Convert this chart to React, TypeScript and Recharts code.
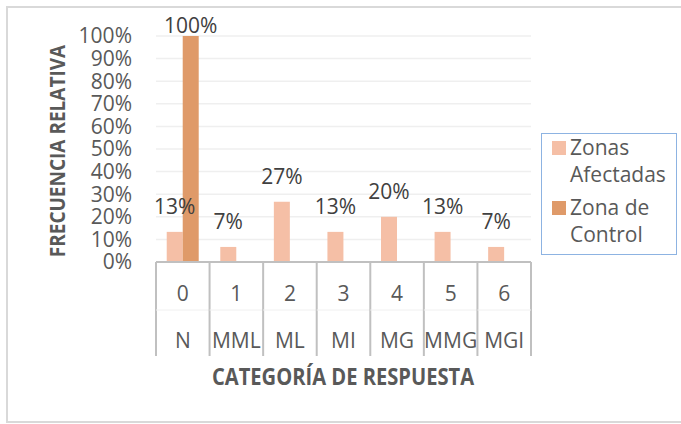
import React from 'react';
import { BarChart, Bar, XAxis, YAxis, CartesianGrid, LabelList } from 'recharts';

const codes = ['0', '1', '2', '3', '4', '5', '6'];
const categories = ['N', 'MML', 'ML', 'MI', 'MG', 'MMG', 'MGI'];
const zonasAfectadas = [0.1333, 0.0667, 0.2667, 0.1333, 0.2, 0.1333, 0.0667];
const zonaControl = [1, 0, 0, 0, 0, 0, 0];
const yTicks = [0, 0.1, 0.2, 0.3, 0.4, 0.5, 0.6, 0.7, 0.8, 0.9, 1];

const data = codes.map((c, i) => ({
  code: c,
  afectadas: zonasAfectadas[i],
  control: zonaControl[i],
}));

const FONT = '"Open Sans", sans-serif';
const PLOT_LEFT = 156;
const PLOT_RIGHT = 531;
const PLOT_BOTTOM = 262;
const BAND = (PLOT_RIGHT - PLOT_LEFT) / codes.length;

const CatTick = (props: any) => {
  const { x, payload, index } = props;
  const last = index === codes.length - 1;
  return (
    <g>
      <line x1={x - BAND / 2} x2={x - BAND / 2} y1={PLOT_BOTTOM} y2={356} stroke="#c0c0c0" strokeWidth={2} />
      {last && <line x1={x + BAND / 2} x2={x + BAND / 2} y1={PLOT_BOTTOM} y2={356} stroke="#c0c0c0" strokeWidth={2} />}
      <line x1={x - BAND / 2} x2={x + BAND / 2} y1={310} y2={310} stroke="#f0f0f0" strokeWidth={1} />
      <text x={x} y={301} textAnchor="middle" fill="#595959" fontSize={21} fontFamily={FONT}>
        {payload.value}
      </text>
      <text x={x} y={348} textAnchor="middle" fill="#595959" fontSize={21} fontFamily={FONT}>
        {categories[index]}
      </text>
    </g>
  );
};

const renderLabel = (props: any) => {
  const { x, y, width, value } = props;
  if (!value) return null;
  const ty = Math.max(y - 18, 33);
  return (
    <text x={x + width / 2} y={ty} textAnchor="middle" fill="#404040" fontSize={21} fontFamily={FONT}>
      {Math.round(value * 100)}%
    </text>
  );
};

const legendItems = [
  { lines: ['Zonas', 'Afectadas'], color: '#f5bfa6' },
  { lines: ['Zona de', 'Control'], color: '#df9a69' },
];

export default function App() {
  return (
    <div style={{ position: 'absolute', left: 0, top: 0, width: 681, height: 424, overflow: 'hidden', background: '#fff', fontFamily: FONT }}>
      <div style={{ position: 'absolute', left: 6, top: 6, width: 700, height: 417, boxSizing: 'border-box', border: '2px solid #d9d9d9' }} />
      <BarChart
        width={681}
        height={424}
        data={data}
        margin={{ top: 36, right: 681 - PLOT_RIGHT, left: PLOT_LEFT - 80, bottom: 62 }}
        barCategoryGap="20%"
        barGap={0}
      >
        <CartesianGrid vertical={false} stroke="#efefef" strokeWidth={1.5} />
        <XAxis
          dataKey="code"
          height={100}
          tickLine={false}
          axisLine={{ stroke: '#c0c0c0', strokeWidth: 2 }}
          tick={<CatTick />}
          interval={0}
        />
        <YAxis
          width={80}
          domain={[0, 1]}
          ticks={yTicks}
          tickFormatter={(v: number) => `${Math.round(v * 100)}%`}
          tickLine={false}
          axisLine={false}
          tickMargin={18}
          tick={{ fill: '#595959', fontSize: 21, fontFamily: FONT }}
          interval={0}
        />
        <Bar dataKey="afectadas" fill="#f5bfa6" isAnimationActive={false}>
          <LabelList dataKey="afectadas" content={renderLabel} />
        </Bar>
        <Bar dataKey="control" fill="#df9a69" isAnimationActive={false}>
          <LabelList dataKey="control" content={renderLabel} />
        </Bar>
      </BarChart>
      <div
        style={{
          position: 'absolute', left: 56, top: 151, transform: 'translate(-50%, -50%) rotate(-90deg) scaleX(0.864)',
          whiteSpace: 'nowrap', fontWeight: 700, fontSize: 22, color: '#595959', lineHeight: '24px',
        }}
      >
        FRECUENCIA RELATIVA
      </div>
      <div
        style={{
          position: 'absolute', left: 343, top: 376, transform: 'translate(-50%, -50%) scaleX(0.875)',
          whiteSpace: 'nowrap', fontWeight: 700, fontSize: 23, color: '#595959', lineHeight: '26px',
        }}
      >
        CATEGORÍA DE RESPUESTA
      </div>
      <div
        style={{
          position: 'absolute', left: 541, top: 133, width: 136, height: 122, boxSizing: 'border-box',
          border: '1.5px solid #8db3e2', background: '#fff',
        }}
      >
        {legendItems.map((item, i) => (
          <div key={item.color} style={{ position: 'absolute', left: 0, top: i * 60 }}>
            <div style={{ position: 'absolute', left: 10, top: 7, width: 14, height: 14, background: item.color }} />
            {item.lines.map((ln, j) => (
              <div
                key={ln}
                style={{ position: 'absolute', left: 28, top: j * 27, fontSize: 21, lineHeight: '26px', color: '#595959', whiteSpace: 'nowrap' }}
              >
                {ln}
              </div>
            ))}
          </div>
        ))}
      </div>
    </div>
  );
}
